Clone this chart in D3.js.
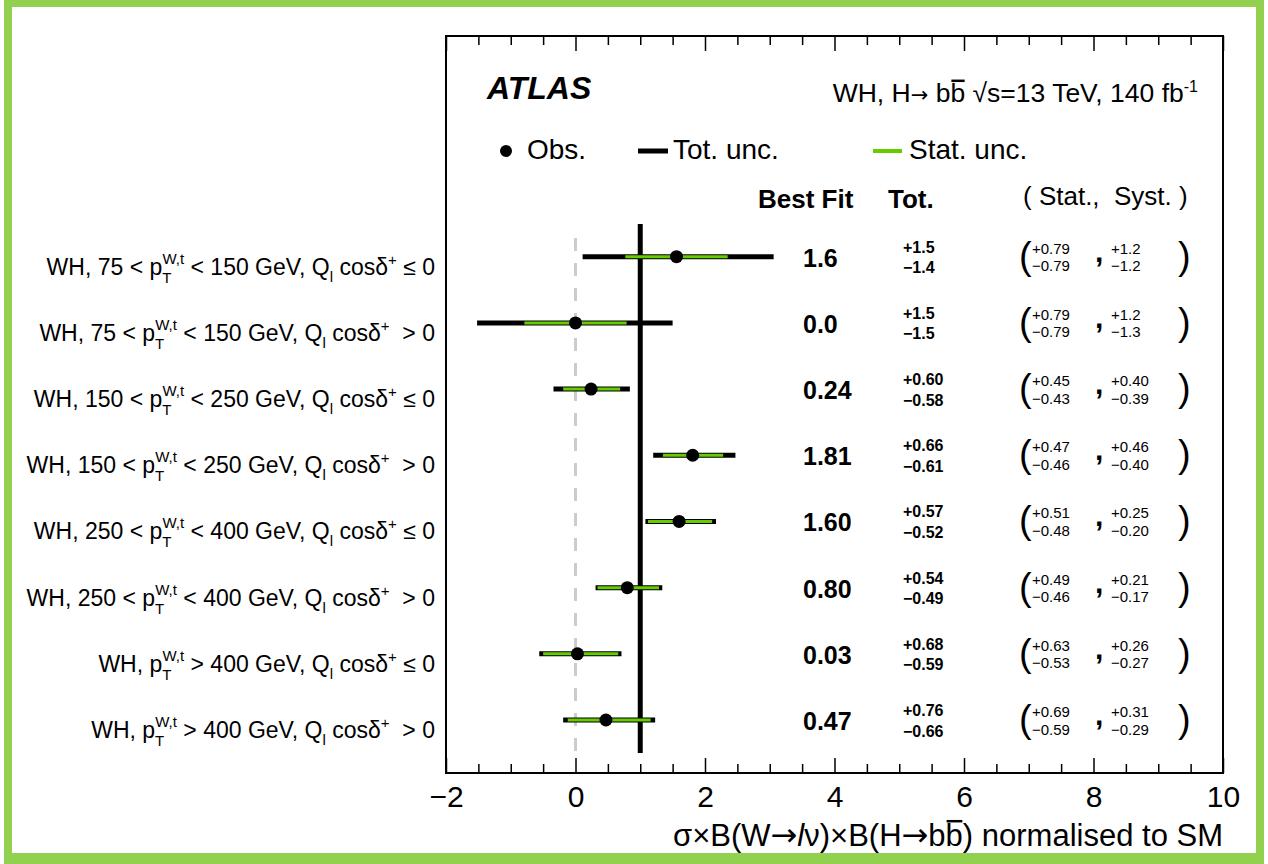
<!DOCTYPE html>
<html><head><meta charset="utf-8">
<script src="https://cdn.jsdelivr.net/npm/d3@7"></script>
<style>
html,body{margin:0;padding:0;background:#fff;}
svg{display:block;}
text{font-family:"Liberation Sans",Arial,Helvetica,sans-serif;white-space:pre;}
.arr{font-family:"DejaVu Sans",sans-serif;}
</style></head><body>
<svg id="c" width="1268" height="864"></svg>
<script>
// ---------- data ----------
const ptLow  = ["75","75","150","150","250","250","400","400"];
const ptHigh = ["150","150","250","250","400","400",null,null];
const qSign  = ["le","gt","le","gt","le","gt","le","gt"];
const best   = [1.56, 0.0, 0.24, 1.81, 1.60, 0.80, 0.03, 0.47];
const totUp  = [1.5, 1.5, 0.60, 0.66, 0.57, 0.54, 0.68, 0.76];
const totDn  = [1.45, 1.52, 0.58, 0.61, 0.52, 0.49, 0.59, 0.66];
const statUp = [0.79, 0.79, 0.45, 0.47, 0.51, 0.49, 0.63, 0.69];
const statDn = [0.79, 0.79, 0.43, 0.46, 0.48, 0.46, 0.53, 0.59];
const bestTxt   = ["1.6","0.0","0.24","1.81","1.60","0.80","0.03","0.47"];
const totUpTxt  = ["+1.5","+1.5","+0.60","+0.66","+0.57","+0.54","+0.68","+0.76"];
const totDnTxt  = ["\u22121.4","\u22121.5","\u22120.58","\u22120.61","\u22120.52","\u22120.49","\u22120.59","\u22120.66"];
const statUpTxt = ["+0.79","+0.79","+0.45","+0.47","+0.51","+0.49","+0.63","+0.69"];
const statDnTxt = ["\u22120.79","\u22120.79","\u22120.43","\u22120.46","\u22120.48","\u22120.46","\u22120.53","\u22120.59"];
const systUpTxt = ["+1.2","+1.2","+0.40","+0.46","+0.25","+0.21","+0.26","+0.31"];
const systDnTxt = ["\u22121.2","\u22121.3","\u22120.39","\u22120.40","\u22120.20","\u22120.17","\u22120.27","\u22120.29"];
const majorTicks = [-2,0,2,4,6,8,10];
const xDomain = [-2,10];
const smValue = 1;
const zeroValue = 0;

// ---------- layout ----------
const svg = d3.select("#c");
const box = {l:446, r:1223, t:36, b:773};
const x = d3.scaleLinear().domain(xDomain).range([box.l, box.r]);
const rows = d3.range(best.length);
const y = d3.scaleLinear().domain([0, rows.length-1]).range([256.7, 720]);
const GREEN = "#66cc00";

// helper: text built from pieces; pieces with bar:true get a drawn overline
function richText(sel, attrs, pieces, fs) {
  const t = sel.append("text");
  Object.entries(attrs).forEach(([k,v]) => t.attr(k,v));
  const bars = [];
  let idx = 0;
  pieces.forEach(p => {
    const s = t.append("tspan").text(p.t);
    if (p.cls) s.attr("class", p.cls);
    if (p.fs) s.attr("font-size", p.fs);
    if (p.it) s.attr("font-style", "italic");
    if (p.dy) s.attr("dy", p.dy);
    if (p.bar) bars.push(idx);
    idx += p.t.length;
  });
  const node = t.node();
  bars.forEach(ci => {
    const a = node.getStartPositionOfChar(ci), b = node.getEndPositionOfChar(ci);
    sel.append("line").attr("x1",a.x+1).attr("x2",b.x-0.5)
      .attr("y1",a.y-0.8*fs).attr("y2",a.y-0.8*fs).attr("stroke","#000").attr("stroke-width",2.5);
  });
  return t;
}

// frame
svg.append("rect").attr("width",1268).attr("height",864).attr("fill","#fff");
const fr = "#92d050";
svg.append("rect").attr("x",4).attr("y",0).attr("width",1260).attr("height",7).attr("fill",fr);
svg.append("rect").attr("x",4).attr("y",0).attr("width",8).attr("height",864).attr("fill",fr);
svg.append("rect").attr("x",1256).attr("y",0).attr("width",8).attr("height",864).attr("fill",fr);
svg.append("rect").attr("x",4).attr("y",853).attr("width",1260).attr("height",11).attr("fill",fr);

// axes (ticks inward)
const minorTicks = d3.range(-2, 10.001, 0.5).filter(v => majorTicks.indexOf(v) < 0);
const gB = svg.append("g").attr("transform",`translate(0,${box.b})`);
gB.call(d3.axisBottom(x).tickValues(majorTicks).tickSize(-15).tickPadding(13).tickFormat(d3.format("d")));
gB.append("g").call(d3.axisBottom(x).tickValues(minorTicks).tickSize(-9).tickFormat(""));
const gT = svg.append("g").attr("transform",`translate(0,${box.t})`);
gT.call(d3.axisTop(x).tickValues(majorTicks).tickSize(-15).tickFormat(""));
gT.append("g").call(d3.axisTop(x).tickValues(minorTicks).tickSize(-9).tickFormat(""));
svg.selectAll(".domain").remove();
svg.selectAll(".tick line").attr("stroke","#000").attr("stroke-width",1.5);
gB.selectAll(".tick text").attr("font-size",30).attr("fill","#000")
  .attr("font-family","'Liberation Sans',Arial,sans-serif");

svg.append("rect").attr("x",box.l).attr("y",box.t).attr("width",box.r-box.l).attr("height",box.b-box.t)
  .attr("fill","none").attr("stroke","#000").attr("stroke-width",2);

// axis title
richText(svg, {x:box.r, y:846, "text-anchor":"end", "font-size":31}, [
  {t:"\u03c3\u00d7B(W"}, {t:"\u2192", cls:"arr", fs:32}, {t:"l", it:true},
  {t:"\u03bd)\u00d7B(H"}, {t:"\u2192", cls:"arr", fs:32}, {t:"b"}, {t:"b", bar:true},
  {t:") normalised to SM"}
], 31);

// reference lines
svg.append("line").attr("x1",x(zeroValue)).attr("x2",x(zeroValue)).attr("y1",238).attr("y2",752)
  .attr("stroke","#cccccc").attr("stroke-width",3).attr("stroke-dasharray","13,12");
svg.append("line").attr("x1",x(smValue)).attr("x2",x(smValue)).attr("y1",224).attr("y2",753)
  .attr("stroke","#000").attr("stroke-width",5);

// error bars
const g = svg.append("g");
g.selectAll(".tot").data(rows).join("line")
  .attr("x1",i=>x(best[i]-totDn[i])).attr("x2",i=>x(best[i]+totUp[i]))
  .attr("y1",i=>y(i)).attr("y2",i=>y(i)).attr("stroke","#000").attr("stroke-width",5);
g.selectAll(".stat").data(rows).join("line")
  .attr("x1",i=>x(best[i]-statDn[i])).attr("x2",i=>x(best[i]+statUp[i]))
  .attr("y1",i=>y(i)).attr("y2",i=>y(i)).attr("stroke",GREEN).attr("stroke-width",3);
g.selectAll("circle").data(rows).join("circle")
  .attr("cx",i=>x(best[i])).attr("cy",i=>y(i)).attr("r",6.5).attr("fill","#000");

// ATLAS + title
svg.append("text").attr("x",487).attr("y",99).attr("font-size",32).attr("font-weight","bold")
  .attr("font-style","italic").text("ATLAS");
richText(svg, {x:1198, y:102, "text-anchor":"end", "font-size":26.5}, [
  {t:"WH, H"}, {t:"\u2192", cls:"arr", fs:21}, {t:" b"}, {t:"b", bar:true},
  {t:" \u221as=13 TeV, 140 fb"}, {t:"-1", fs:16, dy:-10}
], 26.5);

// legend
svg.append("circle").attr("cx",506).attr("cy",151).attr("r",6).attr("fill","#000");
svg.append("text").attr("x",527).attr("y",159).attr("font-size",28).text("Obs.");
svg.append("line").attr("x1",638).attr("x2",668).attr("y1",151).attr("y2",151).attr("stroke","#000").attr("stroke-width",5);
svg.append("text").attr("x",673).attr("y",159).attr("font-size",28).text("Tot. unc.");
svg.append("line").attr("x1",873).attr("x2",902).attr("y1",151).attr("y2",151).attr("stroke",GREEN).attr("stroke-width",4);
svg.append("text").attr("x",909).attr("y",159).attr("font-size",28).text("Stat. unc.");

// column headers
svg.append("text").attr("x",758).attr("y",208).attr("font-size",26).attr("font-weight","bold").text("Best Fit");
svg.append("text").attr("x",888).attr("y",208).attr("font-size",26).attr("font-weight","bold").text("Tot.");
svg.append("text").attr("x",1023).attr("y",205).attr("font-size",26).text("( Stat.,  Syst. )");

// numbers
const nums = svg.append("g");
rows.forEach(i=>{
  const yy = y(i);
  nums.append("text").attr("x",803).attr("y",yy+10).attr("font-size",25).attr("font-weight","bold").text(bestTxt[i]);
  nums.append("text").attr("x",903).attr("y",yy-4).attr("font-size",16).attr("font-weight","bold").text(totUpTxt[i]);
  nums.append("text").attr("x",903).attr("y",yy+16.5).attr("font-size",16).attr("font-weight","bold").text(totDnTxt[i]);
  nums.append("text").attr("x",1019).attr("y",yy+12).attr("font-size",38).text("(");
  nums.append("text").attr("x",1032).attr("y",yy-3).attr("font-size",15).text(statUpTxt[i]);
  nums.append("text").attr("x",1032).attr("y",yy+14.5).attr("font-size",15).text(statDnTxt[i]);
  nums.append("text").attr("x",1095).attr("y",yy+5).attr("font-size",30).attr("font-weight","bold").text(",");
  nums.append("text").attr("x",1111).attr("y",yy-3).attr("font-size",15).text(systUpTxt[i]);
  nums.append("text").attr("x",1111).attr("y",yy+14.5).attr("font-size",15).text(systDnTxt[i]);
  nums.append("text").attr("x",1178).attr("y",yy+12).attr("font-size",38).text(")");
});

// row labels
const labs = svg.append("g");
rows.forEach(i=>{
  const t = labs.append("text").attr("x",435).attr("y",y(i)+18).attr("text-anchor","end").attr("font-size",23);
  const pre = ptHigh[i] ? `WH, ${ptLow[i]} < p` : "WH, p";
  const mid = ptHigh[i] ? ` < ${ptHigh[i]} GeV, Q` : ` > ${ptLow[i]} GeV, Q`;
  t.append("tspan").text(pre);
  t.append("tspan").attr("font-size",15).attr("dy",8).text("T");
  t.append("tspan").attr("font-size",15).attr("dx",-9).attr("dy",-19).text("W,t");
  t.append("tspan").attr("dy",11).text(mid);
  t.append("tspan").attr("font-size",15).attr("dx",0).attr("dy",7).text("l");
  t.append("tspan").attr("dy",-7).text(" cos\u03b4");
  t.append("tspan").attr("font-size",15).attr("dy",-10).text("+");
  t.append("tspan").attr("dy",10).text(qSign[i]==="le" ? " \u2264 0" : "  > 0");
});
</script>
</body></html>
